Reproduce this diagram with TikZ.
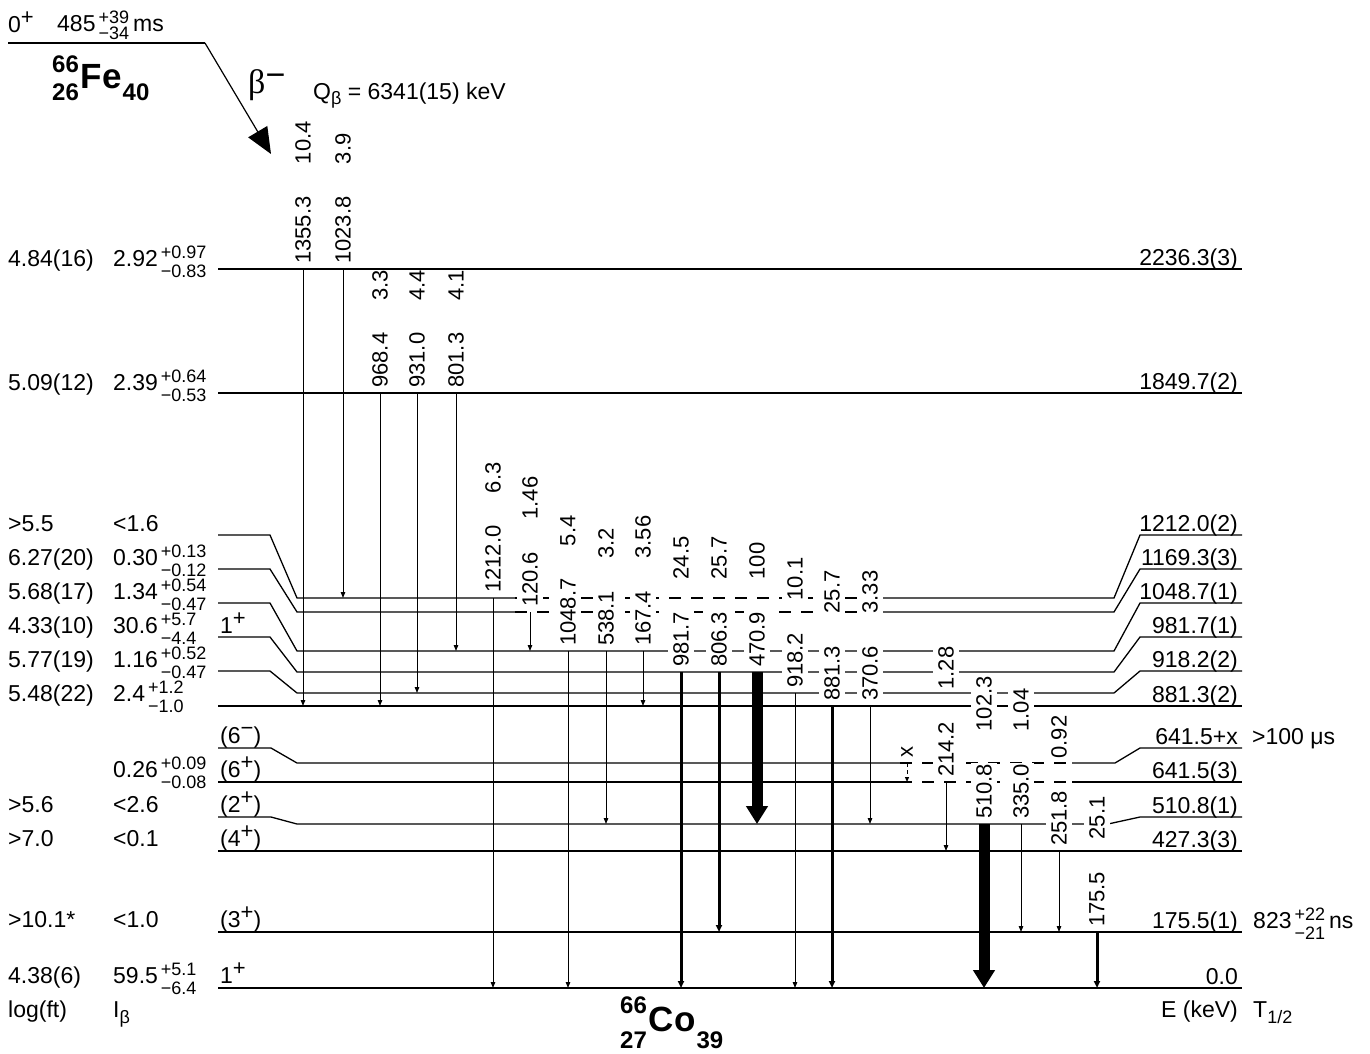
\documentclass[tikz,border=0pt]{standalone}
\usepackage{fontspec}
\setmainfont{Liberation Sans}
\newfontfamily\grk{Liberation Serif}
\usetikzlibrary{arrows.meta,calc}
\newcommand\fA{\fontsize{23}{27}\selectfont}
\newcommand\fS{\fontsize{18}{20}\selectfont}
\newcommand\fG{\fontsize{22}{26}\selectfont}
\newcommand\udgen[5]{{#1\setbox0\hbox{#4}\setbox2\hbox{#5}%
 \dimen0=\wd0 \ifdim\wd2>\dimen0 \dimen0=\wd2 \fi
 \hspace{3pt}\rlap{\raisebox{#2}{\box0}}\raisebox{-#3}{\makebox[\dimen0][l]{\box2}}}}
\newcommand\ud[2]{\udgen{\fS}{8pt}{11pt}{#1}{#2}}
\newcommand\udt[2]{\udgen{\fS}{8pt}{8pt}{#1}{#2}}
\newcommand\spn[1]{\raisebox{8pt}{\fontsize{22}{22}\selectfont #1}}
% #1 raise of A, #2 lowering of Z and N, #3 A, #4 Z, #5 symbol, #6 N
\newcommand\nucl[6]{{\bfseries\fontsize{24}{24}\selectfont\rlap{\raisebox{#1}{#3}}\raisebox{-#2}{#4}\hspace{2pt}{\fontsize{35}{35}\selectfont #5}\hspace{1pt}\raisebox{-#2}{#6}}}
\newcommand\gam[7]{%
 \draw[#1] ($(#3)+(#2,0)$) -- ($(#4)+(#2,0)$);
 \node[glab] (e#5) at ($(#3)+(#2,-4)$) {#6};
 \node[ilab] (i#5) at ($(e#5.east)+(0,-31)$) {#7};}
\begin{document}
\begin{tikzpicture}[x=1pt,y=-1pt,
 lev/.style={line width=1.3pt},
 levd/.style={line width=1.3pt,dash pattern=on 12pt off 10pt},
 gthin/.style={line width=1pt,-{Triangle[length=6pt,width=4.5pt]}},
 gmed/.style={line width=3pt,-{Triangle[length=7pt,width=6pt]}},
 gbig/.style={line width=11pt,-{Triangle[length=18pt,width=21pt]}},
 gx/.style={line width=1pt,dash pattern=on 4pt off 3pt,-{Triangle[length=5pt,width=4pt]}},
 glab/.style={rotate=90,anchor=west,fill=white,inner xsep=1pt,inner ysep=5pt,font=\fG},
 ilab/.style={glab,inner xsep=0pt},
 txt/.style={inner sep=0pt,font=\fA},
 tl/.style={txt,anchor=base west},
 tr/.style={txt,anchor=base east}]
\useasboundingbox (0,0) rectangle (1370,1053);
% level coordinates (x = 0)
\coordinate (L2236) at (0,269);
\coordinate (L1849) at (0,393);
\coordinate (L1212) at (0,598);
\coordinate (L1169) at (0,612);
\coordinate (L1048) at (0,651);
\coordinate (L981) at (0,672);
\coordinate (L918) at (0,693);
\coordinate (L881) at (0,706);
\coordinate (L641x) at (0,763);
\coordinate (L641) at (0,782);
\coordinate (L510) at (0,824);
\coordinate (L427) at (0,851);
\coordinate (L175) at (0,932);
\coordinate (L0) at (0,988);
% parent
\coordinate (P0) at (8,43);
\coordinate (P1) at (205,43);
\coordinate (PT) at (271,154);
\draw[lev] (P0) -- (P1);
\draw[line width=1.2pt,-{Triangle[length=26pt,width=22pt]}] (P1) -- (PT);
\node[tl] (pspin) at (8,32) {0\spn{+}};
\node[tl] (phl) at (57,31) {485\udt{+39}{−34}\hspace{4pt}ms};
\node[tl] (fe) at (52,88) {\nucl{16pt}{12pt}{66}{26}{Fe}{40}};
\node[tl] (beta) at (248,93) {{\grk\fontsize{34}{34}\selectfont β}\raisebox{7pt}{\fontsize{34}{34}\selectfont −}};
\node[tl] (qb) at (313,99) {Q{\fS\raisebox{-5pt}{β}} = 6341(15) keV};
% levels
\draw[lev] (218,269) -- (1242,269);
\draw[lev] (218,393) -- (1242,393);
\draw[lev] (218,535) -- (270,535) -- (297,598) -- (515,598);
\draw[levd] (515,598) -- (883,598);
\draw[lev] (883,598) -- (1114,598) -- (1140,535) -- (1242,535);
\draw[lev] (218,569) -- (270,569) -- (297,612) -- (515,612);
\draw[levd] (515,612) -- (883,612);
\draw[lev] (883,612) -- (1114,612) -- (1140,569) -- (1242,569);
\draw[lev] (218,603) -- (270,603) -- (297,651) -- (1114,651) -- (1140,603) -- (1242,603);
\draw[lev] (218,637) -- (270,637) -- (297,672) -- (1114,672) -- (1140,637) -- (1242,637);
\draw[lev] (218,671) -- (270,671) -- (297,693) -- (1114,693) -- (1140,671) -- (1242,671);
\draw[lev] (218,706) -- (1242,706);
\draw[lev] (218,748) -- (271,748) -- (297,763) -- (900,763);
\draw[levd] (900,763) -- (1072,763);
\draw[lev] (1072,763) -- (1115,763) -- (1140,748) -- (1242,748);
\draw[lev] (218,782) -- (900,782);
\draw[levd] (900,782) -- (1072,782);
\draw[lev] (1072,782) -- (1242,782);
\draw[lev] (218,817) -- (271,817) -- (297,824) -- (1108,824) -- (1140,817) -- (1242,817);
\draw[lev] (218,851) -- (1242,851);
\draw[lev] (218,932) -- (1242,932);
\draw[lev] (218,988) -- (1242,988);
% gammas
\gam{gthin}{303}{L2236}{L881}{1}{1355.3}{10.4}
\gam{gthin}{343}{L2236}{L1212}{2}{1023.8}{3.9}
\gam{gthin}{380}{L1849}{L881}{3}{968.4}{3.3}
\gam{gthin}{417}{L1849}{L918}{4}{931.0}{4.4}
\gam{gthin}{456}{L1849}{L1048}{5}{801.3}{4.1}
\gam{gthin}{493}{L1212}{L0}{6}{1212.0}{6.3}
\gam{gthin}{530}{L1169}{L1048}{7}{120.6}{1.46}
\gam{gthin}{568}{L1048}{L0}{8}{1048.7}{5.4}
\gam{gthin}{606}{L1048}{L510}{9}{538.1}{3.2}
\gam{gthin}{643}{L1048}{L881}{10}{167.4}{3.56}
\gam{gmed}{681}{L981}{L0}{11}{981.7}{24.5}
\gam{gmed}{719}{L981}{L175}{12}{806.3}{25.7}
\gam{gbig}{757}{L981}{L510}{13}{470.9}{100}
\gam{gthin}{795}{L918}{L0}{14}{918.2}{10.1}
\gam{gmed}{832}{L881}{L0}{15}{881.3}{25.7}
\gam{gthin}{870}{L881}{L510}{16}{370.6}{3.33}
\draw[gx] ($(L641x)+(907,0)$) -- ($(L641)+(907,0)$);
\node[glab] (ex) at ($(L641x)+(907,-4)$) {x};
\gam{gthin}{946}{L641}{L427}{18}{214.2}{1.28}
\gam{gbig}{984}{L510}{L0}{19}{510.8}{102.3}
\gam{gthin}{1021}{L510}{L175}{20}{335.0}{1.04}
\gam{gthin}{1059}{L427}{L175}{21}{251.8}{0.92}
\gam{gmed}{1097}{L175}{L0}{22}{175.5}{25.1}
% left columns
\node[tl] (lf1) at (8,266) {4.84(16)};
\node[tl] (ib1) at (113,266) {2.92\ud{+0.97}{−0.83}};
\node[tl] (lf2) at (8,390) {5.09(12)};
\node[tl] (ib2) at (113,390) {2.39\ud{+0.64}{−0.53}};
\node[tl] (lf3) at (8,531) {>5.5};
\node[tl] (ib3) at (113,531) {<1.6};
\node[tl] (lf4) at (8,565) {6.27(20)};
\node[tl] (ib4) at (113,565) {0.30\ud{+0.13}{−0.12}};
\node[tl] (lf5) at (8,599) {5.68(17)};
\node[tl] (ib5) at (113,599) {1.34\ud{+0.54}{−0.47}};
\node[tl] (lf6) at (8,633) {4.33(10)};
\node[tl] (ib6) at (113,633) {30.6\ud{+5.7}{−4.4}};
\node[tl] (sp6) at (220,633) {1\spn{+}};
\node[tl] (lf7) at (8,667) {5.77(19)};
\node[tl] (ib7) at (113,667) {1.16\ud{+0.52}{−0.47}};
\node[tl] (lf8) at (8,701) {5.48(22)};
\node[tl] (ib8) at (113,701) {2.4\ud{+1.2}{−1.0}};
\node[tl] (sp9) at (220,743) {(6\spn{−})};
\node[tl] (ib10) at (113,777) {0.26\ud{+0.09}{−0.08}};
\node[tl] (sp10) at (220,777) {(6\spn{+})};
\node[tl] (lf11) at (8,812) {>5.6};
\node[tl] (ib11) at (113,812) {<2.6};
\node[tl] (sp11) at (220,812) {(2\spn{+})};
\node[tl] (lf12) at (8,846) {>7.0};
\node[tl] (ib12) at (113,846) {<0.1};
\node[tl] (sp12) at (220,846) {(4\spn{+})};
\node[tl] (lf13) at (8,927) {>10.1*};
\node[tl] (ib13) at (113,927) {<1.0};
\node[tl] (sp13) at (220,927) {(3\spn{+})};
\node[tl] (lf14) at (8,983) {4.38(6)};
\node[tl] (ib14) at (113,983) {59.5\ud{+5.1}{−6.4}};
\node[tl] (sp14) at (220,983) {1\spn{+}};
\node[tl] (lfh) at (8,1017) {log(ft)};
\node[tl] (ibh) at (113,1017) {I{\fS\raisebox{-6pt}{β}}};
% right labels
\node[tr] (E1) at (1238,265) {2236.3(3)};
\node[tr] (E2) at (1238,389) {1849.7(2)};
\node[tr] (E3) at (1238,531) {1212.0(2)};
\node[tr] (E4) at (1238,565) {1169.3(3)};
\node[tr] (E5) at (1238,599) {1048.7(1)};
\node[tr] (E6) at (1238,633) {981.7(1)};
\node[tr] (E7) at (1238,667) {918.2(2)};
\node[tr] (E8) at (1238,702) {881.3(2)};
\node[tr] (E9) at (1238,744) {641.5+x};
\node[tr] (E10) at (1238,778) {641.5(3)};
\node[tr] (E11) at (1238,813) {510.8(1)};
\node[tr] (E12) at (1238,847) {427.3(3)};
\node[tr] (E13) at (1238,928) {175.5(1)};
\node[tr] (E14) at (1238,984) {0.0};
\node[tr] (Eh) at (1238,1017) {E (keV)};
\node[tl] (T9) at (1252,744) {>100 μs};
\node[tl] (T13) at (1253,928) {823\ud{+22}{−21}\hspace{4pt}ns};
\node[tl] (Th) at (1253,1017) {T{\fS\raisebox{-6pt}{1/2}}};
\node[tl] (co) at (620,1031) {\nucl{18pt}{17pt}{66}{27}{Co}{39}};
\end{tikzpicture}
\end{document}
